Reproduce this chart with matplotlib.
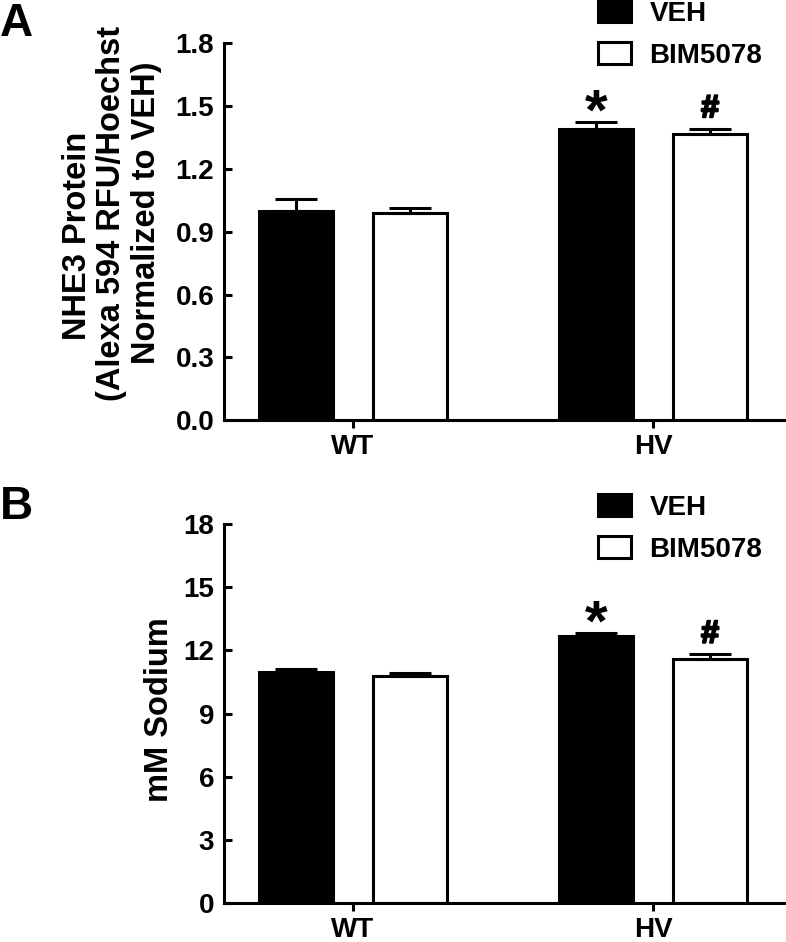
"""Two-panel bar chart: NHE3 protein (A) and sodium (B), VEH vs BIM5078."""

import matplotlib

matplotlib.use("Agg")  # headless
import matplotlib.patheffects as pe
import matplotlib.pyplot as plt
import numpy as np

plt.rcParams["font.family"] = ["Liberation Sans", "DejaVu Sans"]
plt.rcParams["font.weight"] = "bold"

# ---- Data ----
groups = ["WT", "HV"]
series = ["VEH", "BIM5078"]

nhe3_veh = [1.00, 1.39]
nhe3_veh_err = [0.055, 0.032]
nhe3_bim = [0.99, 1.366]
nhe3_bim_err = [0.025, 0.025]

sodium_veh = [10.99, 12.69]
sodium_veh_err = [0.13, 0.13]
sodium_bim = [10.78, 11.61]
sodium_bim_err = [0.13, 0.20]

nhe3_ticks = [0.0, 0.3, 0.6, 0.9, 1.2, 1.5, 1.8]
sodium_ticks = [0, 3, 6, 9, 12, 15, 18]

LW = 2.2
BAR_W = 0.245
OFFSET = 0.19


def draw_panel(ax, veh, veh_err, bim, bim_err, ticks, fmt):
    x = np.arange(len(groups))
    ax.bar(x - OFFSET, veh, BAR_W, color="black", edgecolor="black",
           linewidth=LW, label=series[0], zorder=2)
    ax.bar(x + OFFSET, bim, BAR_W, color="white", edgecolor="black",
           linewidth=LW, label=series[1], zorder=2)
    for xs, ys, es in ((x - OFFSET, veh, veh_err), (x + OFFSET, bim, bim_err)):
        ax.errorbar(xs, ys, yerr=[np.zeros(len(es)), es], fmt="none",
                    ecolor="black", elinewidth=LW, capsize=15, capthick=LW,
                    zorder=3)

    # significance marks on HV (baseline anchored near the error caps)
    ax.annotate("*", (x[1] - OFFSET, veh[1] + veh_err[1]), xytext=(0, -5),
                textcoords="offset points", ha="center", va="baseline",
                fontsize=42, fontweight="bold")
    ax.annotate("#", (x[1] + OFFSET, bim[1] + bim_err[1]), xytext=(0, 8.5),
                textcoords="offset points", ha="center", va="baseline",
                fontsize=23, fontweight="bold",
                path_effects=[pe.withStroke(linewidth=1.6, foreground="black")])

    ax.set_xlim(-0.43, 1.443)
    ax.set_ylim(ticks[0], ticks[-1])
    ax.set_yticks(ticks)
    ax.set_yticklabels([fmt.format(t) for t in ticks])
    ax.set_xticks(x)
    ax.set_xticklabels(groups)
    for s in ("top", "right"):
        ax.spines[s].set_visible(False)
    for s in ("left", "bottom"):
        ax.spines[s].set_linewidth(LW)
    ax.tick_params(axis="y", direction="in", length=6, width=LW,
                   labelsize=20, pad=7)
    ax.tick_params(axis="x", direction="out", length=6, width=LW,
                   labelsize=20, pad=4)
    for lab in ax.get_xticklabels() + ax.get_yticklabels():
        lab.set_fontweight("bold")


fig = plt.figure(figsize=(7.86, 9.42), dpi=100)
ax_a = fig.add_axes([0.285, 0.554, 0.715, 0.400])
ax_b = fig.add_axes([0.285, 0.0417, 0.715, 0.4017])

draw_panel(ax_a, nhe3_veh, nhe3_veh_err, nhe3_bim, nhe3_bim_err,
           nhe3_ticks, "{:.1f}")
draw_panel(ax_b, sodium_veh, sodium_veh_err, sodium_bim, sodium_bim_err,
           sodium_ticks, "{:d}")

legend_kw = dict(loc="upper left", frameon=False, borderpad=0,
                 borderaxespad=0, handlelength=1.2, handleheight=0.86,
                 handletextpad=0.65, labelspacing=0.55,
                 prop={"weight": "bold", "size": 20})
ax_a.legend(bbox_to_anchor=(598 / 786, 1.0), bbox_transform=fig.transFigure,
            **legend_kw)
ax_b.legend(bbox_to_anchor=(598 / 786, 1 - 494 / 942),
            bbox_transform=fig.transFigure, **legend_kw)

fig.text(112 / 786, 1 - 213 / 942,
         "NHE3 Protein     \n(Alexa 594 RFU/Hoechst\nNormalized to VEH)",
         rotation=90, ha="center", va="center", multialignment="center",
         fontsize=23.5, fontweight="bold", linespacing=1.15)
fig.text(160 / 786, 1 - 710 / 942, "mM Sodium", rotation=90, ha="center",
         va="center", fontsize=23.5, fontweight="bold")

fig.text(0.0, 1 - 2 / 942, "A", ha="left", va="top", fontsize=33,
         fontweight="bold")
fig.text(0.0, 1 - 485 / 942, "B", ha="left", va="top", fontsize=33,
         fontweight="bold")

fig.savefig("out.png", dpi=100)
